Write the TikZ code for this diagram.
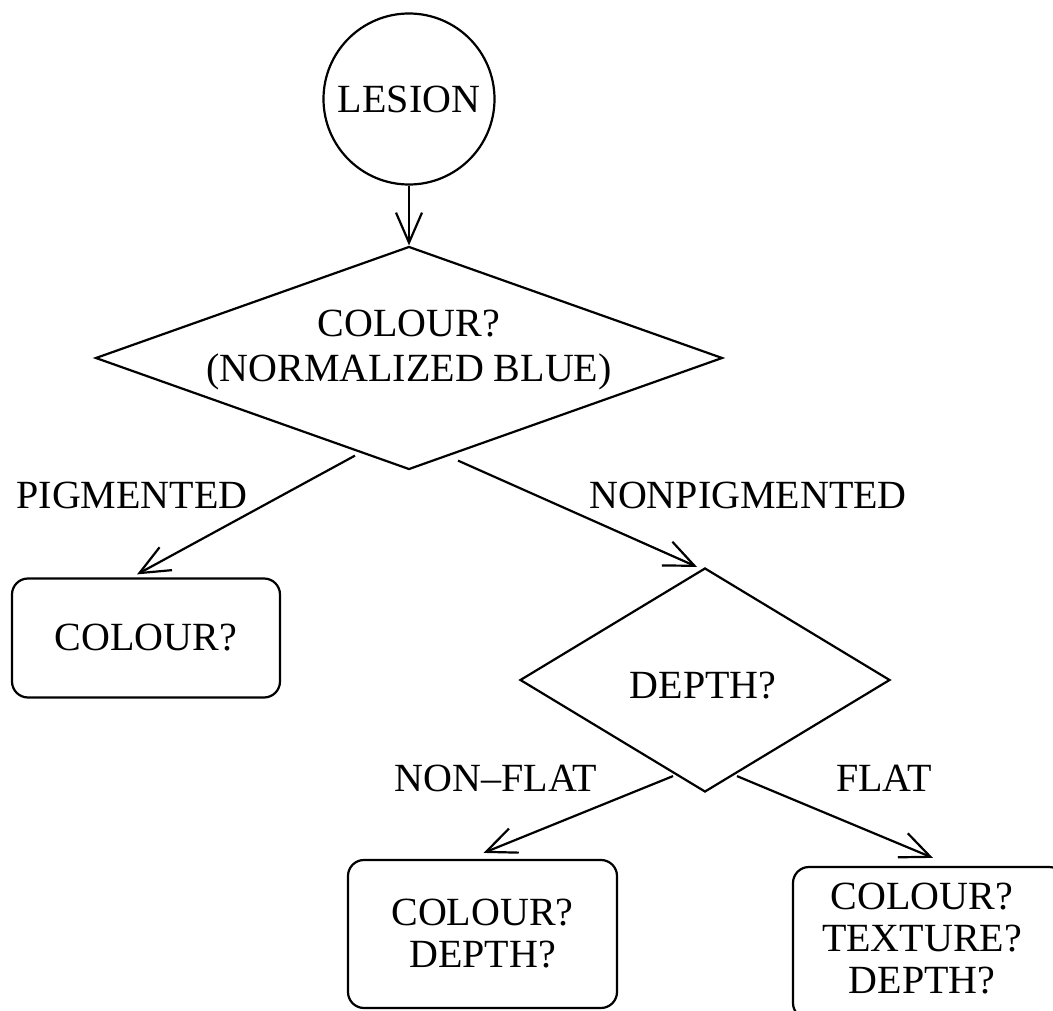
\documentclass[tikz,border=0pt]{standalone}
\usepackage{fontspec}
\setmainfont{Liberation Serif}
\usetikzlibrary{shapes.geometric,arrows.meta,calc}
\begin{document}
\begin{tikzpicture}[x=1pt,y=-1pt,
  every node/.style={font=\fontsize{40}{42}\selectfont},
  ln/.style={line width=2.2pt},
  arr/.style={ln,-{Straight Barb[length=30pt,width=26pt,line width=2.2pt]}},
  dec/.style={diamond,draw,ln,inner sep=0pt},
  bx/.style={draw,ln,rounded corners=16pt,align=center,inner sep=0pt},
  lbl/.style={inner sep=0pt,align=center}]
\useasboundingbox (0,0) rectangle (1053,1011);
% nodes
\node[circle,draw,ln,minimum size=171pt,inner sep=0pt] (lesion) at (409,99) {LESION};
\node[dec,minimum width=627pt,minimum height=223pt] (d1) at (409,358) {};
\node[lbl,font=\fontsize{40}{45}\selectfont] (d1text) at (409,350) {COLOUR?\\(NORMALIZED BLUE)};
\node[bx,minimum width=268pt,minimum height=119pt] (box1) at (146,638) {COLOUR?};
\node[dec,minimum width=370pt,minimum height=224pt] (d2) at (705,680) {};
\node[lbl] (d2text) at (703,686) {DEPTH?};
\node[bx,minimum width=269pt,minimum height=148pt] (box2) at (482.5,934) {COLOUR?\\DEPTH?};
\node[bx,minimum width=272pt,minimum height=152pt] (box3) at (929,943) {};
\node[lbl] (box3text) at (922,939) {COLOUR?\\TEXTURE?\\DEPTH?};
% edge labels
\node[lbl] (lpig) at (132,495) {PIGMENTED};
\node[lbl] (lnonpig) at (748,495) {NONPIGMENTED};
\node[lbl] (lnonflat) at (496,778) {NON--FLAT};
\node[lbl] (lflat) at (884,778) {FLAT};
% connectors
\draw[arr] (lesion.south) -- (d1.north);
\draw[arr] ($(d1.south)+(-54,-15)$) -- ($(box1.north)+(-9,-3)$);
\draw[arr] ($(d1.south)+(49,-10)$) -- ($(d2.north)+(-8,0)$);
\draw[arr] ($(d2.south)+(-32,-17)$) -- ($(box2.north)+(1,-6)$);
\draw[arr] ($(d2.south)+(32,-17)$) -- ($(box3.north)+(4,-8)$);
\end{tikzpicture}
\end{document}
